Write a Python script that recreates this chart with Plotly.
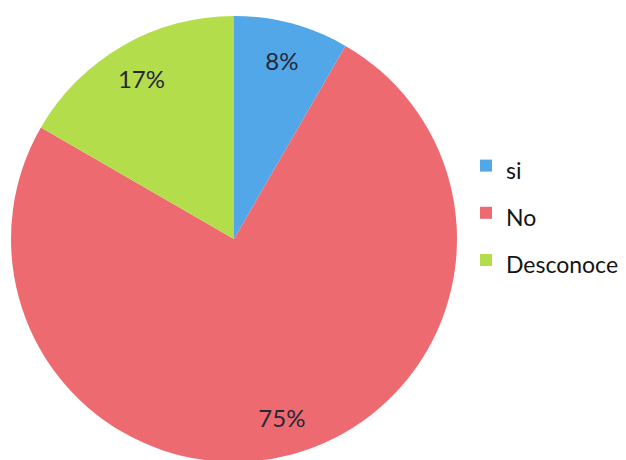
import plotly.graph_objects as go

categories = ["si", "No", "Desconoce"]
values = [1, 9, 2]
colors = ["#52a7e8", "#ee6a71", "#b4dd4c"]

W, H = 626, 460
# page body has an 8px margin, so figure coordinates are offset
cx, cy, r = 226, 231, 223
dom_x = [(cx - r) / W, (cx + r) / W]
dom_y = [(H - cy - r) / H, (H - cy + r) / H]

legend_labels = [f'<span style="font-size:23px">{c}</span>' for c in categories]

# filled pie (no text)
fig = go.Figure(go.Pie(
    labels=legend_labels,
    values=values,
    sort=False,
    direction="clockwise",
    rotation=0,
    marker=dict(colors=colors, line=dict(width=0)),
    textinfo="none",
    domain=dict(x=dom_x, y=dom_y),
    hoverinfo="label+percent",
))

# transparent ring used only to place the percentage labels near the rim
fig.add_trace(go.Pie(
    labels=legend_labels,
    values=values,
    sort=False,
    direction="clockwise",
    rotation=0,
    hole=0.66,
    marker=dict(colors=["rgba(0,0,0,0)"] * len(values), line=dict(width=0)),
    texttemplate="%{percent:.0%}",
    textposition="inside",
    insidetextorientation="horizontal",
    textfont=dict(family="Lato", size=24, color="#272735"),
    domain=dict(x=dom_x, y=dom_y),
    showlegend=False,
    hoverinfo="skip",
))

fig.update_layout(
    width=W, height=H,
    margin=dict(l=0, r=0, t=0, b=0),
    paper_bgcolor="white",
    font=dict(family="Lato", color="#1a1a1a"),
    legend=dict(
        x=458 / W, xanchor="left",
        y=1 - 205 / H, yanchor="middle",
        font=dict(family="Lato", size=34, color="#141414"),
        bgcolor="rgba(0,0,0,0)",
    ),
)

fig.write_html("out.html")
